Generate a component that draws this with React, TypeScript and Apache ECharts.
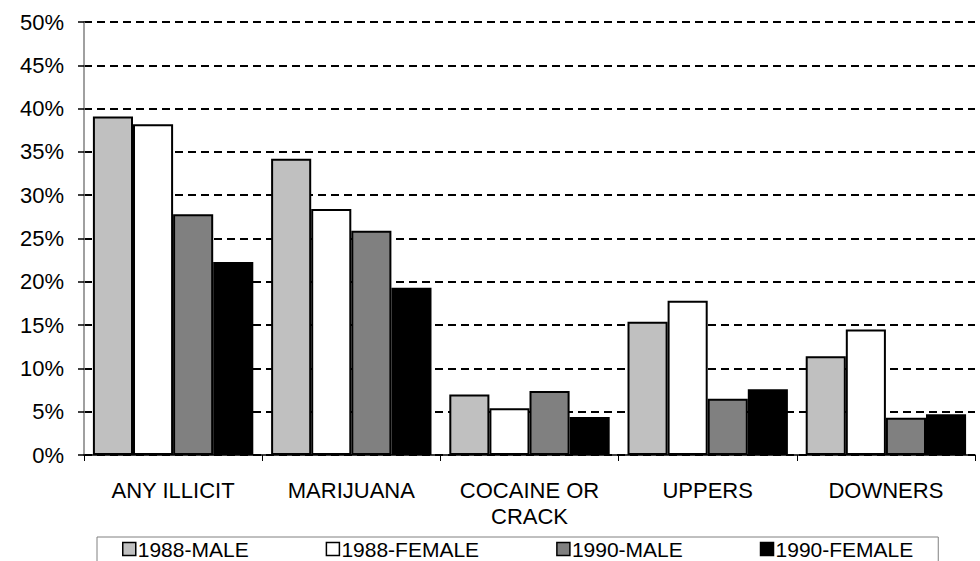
import React, { useEffect, useRef } from "react";
import * as echarts from "echarts";

const categories = ["ANY ILLICIT", "MARIJUANA", "COCAINE OR\nCRACK", "UPPERS", "DOWNERS"];
const seriesNames = ["1988-MALE", "1988-FEMALE", "1990-MALE", "1990-FEMALE"];
const male1988 = [39.1, 34.2, 7.0, 15.4, 11.4];
const female1988 = [38.2, 28.4, 5.4, 17.8, 14.5];
const male1990 = [27.8, 25.9, 7.4, 6.5, 4.3];
const female1990 = [22.3, 19.3, 4.4, 7.6, 4.7];
const seriesColors = ["#C0C0C0", "#FFFFFF", "#808080", "#000000"];

const FONT = "Liberation Sans";

export default function App() {
  const ref = useRef<HTMLDivElement>(null);
  useEffect(() => {
    if (!ref.current) return;
    const chart = echarts.init(ref.current, null, { renderer: "svg" });
    const values = [male1988, female1988, male1990, female1990];
    chart.setOption({
      animation: false,
      backgroundColor: "#FFFFFF",
      textStyle: { fontFamily: FONT, color: "#000" },
      grid: { left: 84, right: 5, top: 22, bottom: 106, containLabel: false },
      legend: {
        left: 97,
        top: 537,
        padding: [1, 25, 12, 25],
        borderColor: "#808080",
        borderWidth: 1,
        itemGap: 77,
        itemWidth: 13,
        itemHeight: 13,
        icon: "rect",
        textStyle: { fontFamily: FONT, fontSize: 21, color: "#000", padding: [0, 0, 0, -3], lineHeight: 22 },
        itemStyle: { borderColor: "#000", borderWidth: 1.5 },
        data: seriesNames,
      },
      xAxis: {
        type: "category",
        data: categories,
        boundaryGap: true,
        axisLine: { show: true, lineStyle: { color: "#000", width: 1.5 } },
        axisTick: { show: true, length: 6, alignWithLabel: false, lineStyle: { color: "#000" } },
        axisLabel: {
          fontFamily: FONT,
          fontSize: 22,
          color: "#000",
          margin: 22,
          lineHeight: 26,
          interval: 0,
          align: "center",
        },
      },
      yAxis: {
        type: "value",
        min: 0,
        max: 50,
        interval: 5,
        axisLine: { show: true, lineStyle: { color: "#808080", width: 1.5 } },
        axisTick: { show: true, length: 6, lineStyle: { color: "#000", width: 1.5 } },
        axisLabel: {
          fontFamily: FONT,
          fontSize: 22,
          color: "#000",
          margin: 20,
          formatter: "{value}%",
        },
        splitLine: {
          show: true,
          lineStyle: { color: "#000", width: 2, type: [8, 5] },
        },
      },
      series: seriesNames.map((name, i) => ({
        name,
        type: "bar",
        data: values[i],
        barGap: "0%",
        barCategoryGap: "10%",
        itemStyle: { color: seriesColors[i], borderColor: "#000", borderWidth: 2 },
      })),
    });
    return () => chart.dispose();
  }, []);
  return <div ref={ref} style={{ width: 980, height: 561, position: "absolute", left: 0, top: 0 }} />;
}
